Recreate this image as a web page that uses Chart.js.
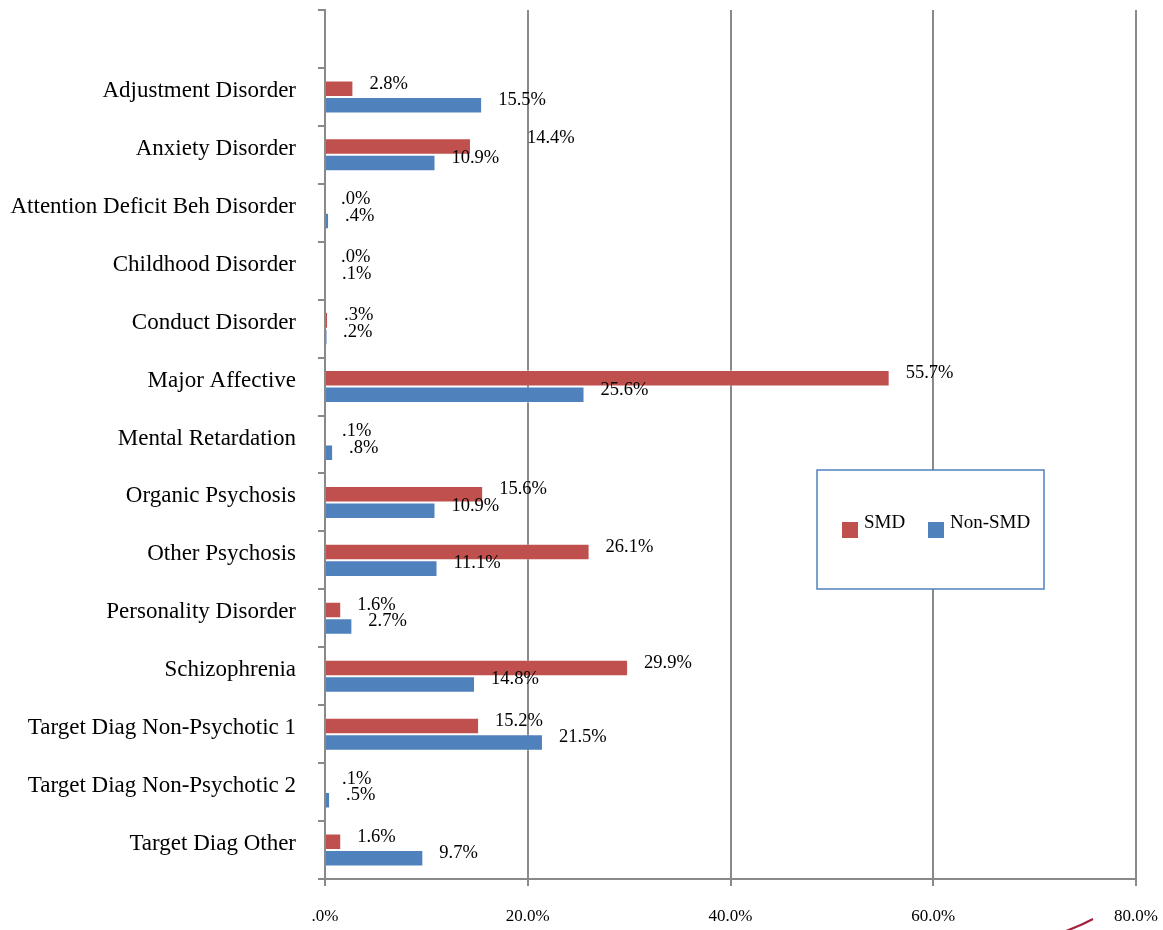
<!DOCTYPE html>
<html>
<head>
<meta charset="utf-8">
<script src="https://cdn.jsdelivr.net/npm/chart.js@4"></script>
<style>
  html, body { margin: 0; padding: 0; background: #ffffff; }
  #wrap { width: 1163px; height: 930px; position: relative; }
</style>
</head>
<body>
<div id="wrap"><canvas id="c" width="1163" height="930"></canvas></div>
<script>
// ---- data ----
const categories = [
  "",
  "Adjustment Disorder",
  "Anxiety Disorder",
  "Attention Deficit Beh Disorder",
  "Childhood Disorder",
  "Conduct Disorder",
  "Major Affective",
  "Mental Retardation",
  "Organic Psychosis",
  "Other Psychosis",
  "Personality Disorder",
  "Schizophrenia",
  "Target Diag Non-Psychotic 1",
  "Target Diag Non-Psychotic 2",
  "Target Diag Other"
];
const smdValues    = [null, 2.8, 14.4, 0.0, 0.0, 0.3, 55.7, 0.1, 15.6, 26.1, 1.6, 29.9, 15.2, 0.1, 1.6];
const nonSmdValues = [null, 15.5, 10.9, 0.4, 0.1, 0.2, 25.6, 0.8, 10.9, 11.1, 2.7, 14.8, 21.5, 0.5, 9.7];
const seriesNames  = ["SMD", "Non-SMD"];
const xTickValues  = [0, 20, 40, 60, 80];

const FONT = "'Liberation Serif', 'Times New Roman', serif";
const GRID = "#898989";
const RED = "#C0504D";
const BLUE = "#4F81BD";

function fmtPct(v) {
  return v.toFixed(1).replace(/^0/, "") + "%";
}

const valueLabelPlugin = {
  id: "valueLabels",
  afterDatasetsDraw(chart, args, opts) {
    const ctx = chart.ctx;
    ctx.save();
    ctx.font = "18.5px " + FONT;
    ctx.fillStyle = "#000";
    ctx.textAlign = "left";
    ctx.textBaseline = "middle";
    chart.data.datasets.forEach((ds, di) => {
      const meta = chart.getDatasetMeta(di);
      meta.data.forEach((el, i) => {
        const v = ds.data[i];
        if (v === null || v === undefined) return;
        const nudge = (opts.nudges || []).find(n => n.ds === di && n.index === i) || {dx: 0, dy: 0};
        const p = el.getProps(["x", "y"], true);
        ctx.fillText(fmtPct(v), p.x + 16 + nudge.dx, p.y - 5 + nudge.dy);
      });
    });
    ctx.restore();
  }
};

const boxLegendPlugin = {
  id: "boxLegend",
  afterDraw(chart, args, o) {
    const ctx = chart.ctx;
    ctx.save();
    ctx.fillStyle = "#fff";
    ctx.fillRect(o.x, o.y, o.w, o.h);
    ctx.strokeStyle = BLUE;
    ctx.lineWidth = 1.5;
    ctx.strokeRect(o.x, o.y, o.w, o.h);
    ctx.font = "19px " + FONT;
    ctx.textBaseline = "middle";
    ctx.textAlign = "left";
    chart.data.datasets.forEach((ds, i) => {
      const ix = o.itemX[i];
      ctx.fillStyle = ds.backgroundColor;
      ctx.fillRect(ix, o.sqY, 16, 16);
      ctx.fillStyle = "#000";
      ctx.fillText(ds.label, ix + 22, o.sqY + 1);
    });
    // small decorative swoosh at the bottom edge
    ctx.strokeStyle = "#a3203f";
    ctx.lineWidth = 2;
    ctx.beginPath();
    ctx.moveTo(1066, 931);
    ctx.quadraticCurveTo(1080, 926, 1093, 919);
    ctx.stroke();
    ctx.restore();
  }
};

new Chart(document.getElementById("c"), {
  type: "bar",
  data: {
    labels: categories,
    datasets: [
      { label: seriesNames[0], data: smdValues, backgroundColor: RED, borderColor: "rgba(255,255,255,0.35)", borderWidth: 1 },
      { label: seriesNames[1], data: nonSmdValues, backgroundColor: BLUE, borderColor: "rgba(255,255,255,0.35)", borderWidth: 1 }
    ]
  },
  plugins: [valueLabelPlugin, boxLegendPlugin],
  options: {
    indexAxis: "y",
    responsive: false,
    animation: false,
    devicePixelRatio: 1,
    categoryPercentage: 0.57,
    barPercentage: 1.0,
    layout: { padding: { left: 0, top: 10, right: 27, bottom: 0 } },
    plugins: {
      legend: { display: false },
      tooltip: { enabled: false },
      valueLabels: { nudges: [ { ds: 0, index: 2, dx: 40, dy: -3 } ] },
      boxLegend: { x: 817, y: 470, w: 227, h: 119, sqY: 522, itemX: [842, 928] }
    },
    scales: {
      x: {
        min: 0, max: 80,
        afterBuildTicks(scale) { scale.ticks = xTickValues.map(v => ({ value: v })); },
        afterFit(scale) { scale.height = 51; scale.paddingLeft = 0; scale.paddingRight = 0; },
        grid: { color: GRID, lineWidth: 2, tickLength: 7, drawTicks: true },
        border: { color: GRID, width: 2 },
        ticks: {
          font: { family: FONT, size: 17 },
          color: "#000",
          padding: 20,
          maxRotation: 0,
          callback: (v) => fmtPct(v)
        }
      },
      y: {
        afterFit(scale) { scale.width = 325; scale.paddingTop = 0; scale.paddingBottom = 0; },
        grid: { display: true, drawOnChartArea: false, offset: true, color: GRID, lineWidth: 2, tickLength: 7 },
        border: { color: GRID, width: 2 },
        ticks: {
          font: { family: FONT, size: 23 },
          color: "#000",
          padding: 22,
          labelOffset: -6,
          autoSkip: false
        }
      }
    }
  }
});
</script>
</body>
</html>
